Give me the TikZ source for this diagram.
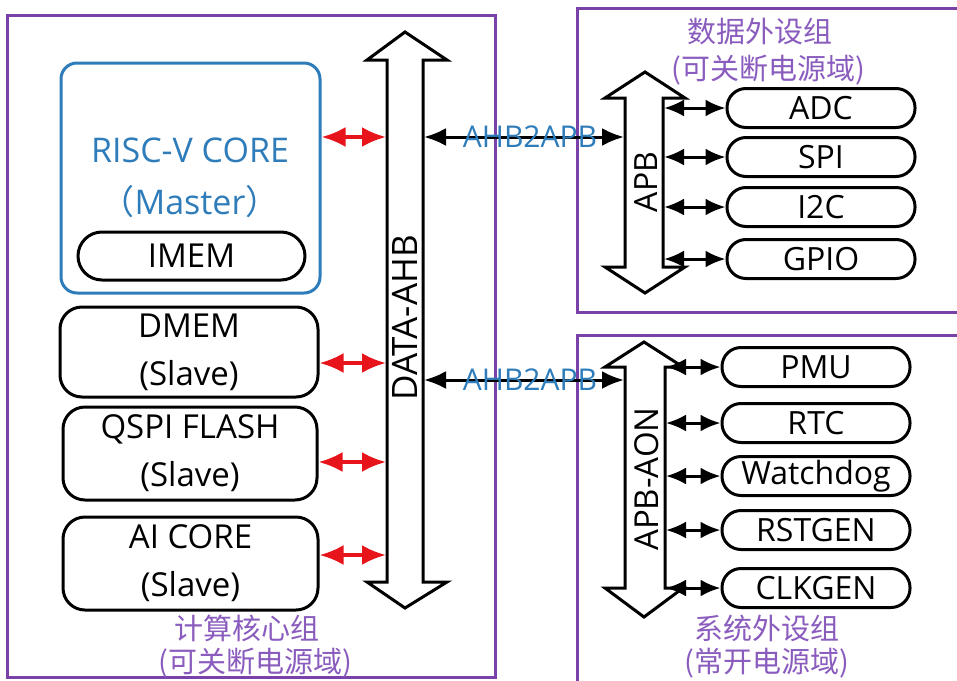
\documentclass[tikz,border=0pt]{standalone}
\usepackage{fontspec}
\setmainfont{Open Sans}
\newfontfamily\cjk{Noto Sans CJK SC}
\usetikzlibrary{arrows.meta}
\definecolor{grp}{RGB}{122,66,168}
\definecolor{grptext}{RGB}{138,92,190}
\definecolor{cpu}{RGB}{46,125,186}
\definecolor{redarr}{RGB}{232,20,27}
\begin{document}
\begin{tikzpicture}[x=1pt,y=-1pt,
  group/.style={draw=grp,line width=3pt},
  grouplabel/.style={text=grptext,font=\cjk\fontsize{29}{29}\selectfont,inner sep=0pt},
  blockbox/.style={draw=black,line width=3pt,rounded corners=22pt,align=center,
    font=\fontsize{33}{48}\selectfont,inner sep=0pt},
  pill/.style={draw=black,line width=3pt,rounded corners=19pt,minimum width=188pt,
    minimum height=39pt,font=\fontsize{32}{32}\selectfont,inner sep=0pt},
  bus/.style={draw=black,fill=white,line width=3pt,line join=miter},
  buslabel/.style={rotate=90,font=\fontsize{33}{33}\selectfont,inner sep=0pt},
  redlink/.style={draw=redarr,line width=3.5pt,{Latex[length=24pt,width=20pt]}-{Latex[length=24pt,width=20pt]}},
  blacklink/.style={draw=black,line width=3pt,{Latex[length=20pt,width=17pt]}-{Latex[length=20pt,width=17pt]}},
  bridgelink/.style={draw=black,line width=3pt,{Latex[length=22pt,width=18pt]}-{Latex[length=22pt,width=18pt]}}
]
\useasboundingbox (0,0) rectangle (957,680);
\fill[white] (0,0) rectangle (957,680);

% group frames
\draw[group] (7,15) rectangle (495,677);
\draw[group] (577,8) rectangle (965,312);
\draw[group] (577,335) rectangle (965,690);

% group labels
\node[grouplabel] (g1a) at (247,628) {计算核心组};
\node[grouplabel] (g1b) at (255,663) {(可关断电源域)};
\node[grouplabel] (g2a) at (760,32) {数据外设组};
\node[grouplabel] (g2b) at (768,70) {(可关断电源域)};
\node[grouplabel] (g3a) at (767,628) {系统外设组};
\node[grouplabel] (g3b) at (767,663) {(常开电源域)};

% compute group
\node[draw=cpu,line width=3pt,rounded corners=16pt,minimum width=259pt,minimum height=230pt,inner sep=0pt]
  (risc) at (190.5,178) {};
\node[text=cpu,font=\fontsize{34}{34}\selectfont,inner sep=0pt] (risct) at (190,150) {RISC-V CORE};
\node[text=cpu,font=\fontsize{34}{34}\selectfont,inner sep=0pt] (riscm) at (190,202) {{\cjk（}Master{\cjk）}};
\node[draw=black,line width=3pt,rounded corners=24pt,minimum width=227pt,minimum height=48pt,
  font=\fontsize{33}{33}\selectfont,inner sep=0pt] (imem) at (191.5,256) {IMEM};
\node[blockbox,minimum width=258pt,minimum height=90pt] (dmem) at (189,352) {DMEM\\(Slave)};
\node[blockbox,minimum width=254pt,minimum height=93pt] (qspi) at (190,453.5) {QSPI FLASH\\(Slave)};
\node[blockbox,minimum width=255pt,minimum height=93pt] (ai) at (190.5,563.5) {AI CORE\\(Slave)};

% DATA-AHB bus
\draw[bus] (405,32) -- (447,60) -- (423,60) -- (423,582) -- (447,582) -- (405,608)
  -- (367,582) -- (387,582) -- (387,60) -- (367,60) -- cycle;
\node[buslabel,font=\fontsize{35}{35}\selectfont] (ahb) at (405,318) {DATA-AHB};
\coordinate (ahbL1) at (386,137);
\coordinate (ahbL2) at (386,363);
\coordinate (ahbL3) at (386,462);
\coordinate (ahbL4) at (386,555);
\coordinate (ahbR1) at (424,137);
\coordinate (ahbR2) at (424,380);

\draw[redlink] (ahbL1 -| risc.east) -- (ahbL1);
\draw[redlink] (ahbL2 -| dmem.east) -- (ahbL2);
\draw[redlink] (ahbL3 -| qspi.east) -- (ahbL3);
\draw[redlink] (ahbL4 -| ai.east) -- (ahbL4);

% APB bus
\draw[bus] (645,72) -- (685,98) -- (663,98) -- (663,267) -- (685,267) -- (645,293)
  -- (605,267) -- (625,267) -- (625,98) -- (605,98) -- cycle;
\node[buslabel,font=\fontsize{32}{32}\selectfont] (apb) at (646,182) {APB};
\coordinate (apbL) at (624,137);
\coordinate (apbR) at (664,0);

% APB-AON bus
\draw[bus] (644,342) -- (683,367) -- (665,367) -- (665,588) -- (683,588) -- (644,617)
  -- (605,588) -- (625,588) -- (625,367) -- (605,367) -- cycle;
\node[buslabel,font=\fontsize{33}{33}\selectfont] (aon) at (647,479) {APB-AON};
\coordinate (aonL) at (624,380);
\coordinate (aonR) at (666,0);

% bridges
\draw[bridgelink] (ahbR1) -- (apbL);
\draw[bridgelink] (ahbR2) -- (aonL);
\node[text=cpu,font=\fontsize{30}{30}\selectfont,inner sep=0pt] (br1) at (530,137) {AHB2APB};
\node[text=cpu,font=\fontsize{30}{30}\selectfont,inner sep=0pt] (br2) at (530,380) {AHB2APB};

% data peripherals
\node[pill] (adc) at (821,108) {ADC};
\node[pill] (spi) at (821,157) {SPI};
\node[pill] (i2c) at (821,207) {I2C};
\node[pill] (gpio) at (821,259) {GPIO};
\foreach \p in {adc,spi,i2c,gpio}
  \draw[blacklink] (\p.west -| apbR) -- (\p.west);

% system peripherals
\node[pill] (pmu) at (816,367) {PMU};
\node[pill] (rtc) at (816,423) {RTC};
\node[pill] (wdg) at (816,476) {Watchdog};
\node[pill] (rst) at (816,530) {RSTGEN};
\node[pill] (clk) at (816,588) {CLKGEN};
\foreach \p in {pmu,rtc,wdg,rst,clk}
  \draw[blacklink] (\p.west -| aonR) -- (\p.west);
\end{tikzpicture}
\end{document}
